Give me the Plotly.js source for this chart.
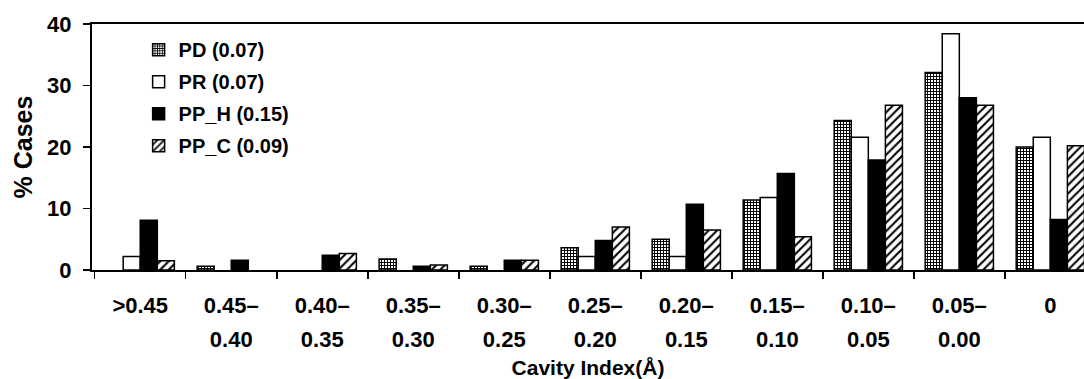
<!DOCTYPE html>
<html>
<head>
<meta charset="utf-8">
<script src="https://cdn.plot.ly/plotly-3.0.1.min.js"></script>
<style>html,body{margin:0;padding:0;background:#fff;}#chart{width:1084px;height:379px;}</style>
</head>
<body>
<div id="chart"></div>
<script>
const categories = [">0.45", "0.45–0.40", "0.40–0.35", "0.35–0.30", "0.30–0.25", "0.25–0.20", "0.20–0.15", "0.15–0.10", "0.10–0.05", "0.05–0.00", "0"];
const seriesNames = ["PD (0.07)", "PR (0.07)", "PP_H (0.15)", "PP_C (0.09)"];
const PD   = [0.0, 0.6, 0.0, 1.8, 0.6, 3.6, 5.0, 11.4, 24.3, 32.1, 20.0];
const PR   = [2.2, 0.0, 0.0, 0.0, 0.0, 2.2, 2.2, 11.8, 21.6, 38.4, 21.6];
const PP_H = [8.1, 1.6, 2.4, 0.6, 1.6, 4.8, 10.7, 15.7, 17.9, 28.0, 8.2];
const PP_C = [1.5, 0.0, 2.7, 0.8, 1.6, 7.0, 6.5, 5.4, 26.8, 26.8, 20.2];
const yTicks = [0, 10, 20, 30, 40];

const line1 = categories.map(c => c.includes("–") ? c.split("–")[0] + "–" : c);
const line2 = categories.map(c => c.includes("–") ? c.split("–")[1] : "");
const idx = categories.map((c, i) => i);

const FONT = "Liberation Sans, Arial, sans-serif";
const styles = [
  {color: "#ffffff", pattern: {shape: "+", fgcolor: "#000", bgcolor: "#fff", size: 3, solidity: 0.55, fillmode: "replace"}},
  {color: "#ffffff"},
  {color: "#000000"},
  {color: "#ffffff", pattern: {shape: "/", fgcolor: "#000", bgcolor: "#fff", size: 6, solidity: 0.35, fillmode: "replace"}}
];
const series = [PD, PR, PP_H, PP_C];
const traces = series.map((vals, k) => ({
  type: "bar",
  name: seriesNames[k],
  x: idx,
  y: vals.map(v => v === 0 ? null : v),
  legendgroup: "g" + k,
  marker: Object.assign({line: {color: "#000", width: 1.5}}, styles[k]),
  hoverinfo: "y+name"
}));

const layout = {
  width: 1084, height: 379,
  margin: {l: 92, r: 0, t: 24, b: 109},
  paper_bgcolor: "#fff", plot_bgcolor: "#fff",
  barmode: "group", bargap: 0.25, bargroupgap: 0,
  font: {family: FONT, color: "#000", size: 20, weight: "bold"},
  showlegend: true,
  legend: {x: 0.047, y: 0.975, xanchor: "left", yanchor: "top", tracegroupgap: 3,
           font: {family: FONT, size: 20, color: "#000", weight: "bold"}, bgcolor: "rgba(0,0,0,0)"},
  xaxis: {
    type: "linear", range: [-0.53, 10.37],
    tickmode: "array", tickvals: idx, ticktext: line1,
    ticks: "", showgrid: false, zeroline: false,
    showline: true, linecolor: "#000", linewidth: 2, mirror: true,
    tickfont: {family: FONT, size: 22, color: "#000", weight: "bold"},
    ticklabelstandoff: 15,
    title: {text: "Cavity Index(Å)", font: {family: FONT, size: 21, color: "#000", weight: "bold"}, standoff: 45}
  },
  xaxis2: {
    type: "linear", range: [-0.53, 10.37], overlaying: "x", anchor: "y", side: "bottom",
    tickmode: "array", tickvals: idx, ticktext: line2,
    ticks: "", showgrid: false, zeroline: false, showline: false,
    tickfont: {family: FONT, size: 22, color: "#000", weight: "bold"},
    ticklabelstandoff: 54
  },
  xaxis3: {
    type: "linear", range: [-0.53, 10.37], overlaying: "x", anchor: "y", side: "bottom",
    tickmode: "array", tickvals: idx.map(i => i - 0.5), showticklabels: false,
    ticks: "outside", ticklen: 8, tickwidth: 1.5, tickcolor: "#000",
    showgrid: false, zeroline: false, showline: false
  },
  yaxis: {
    range: [0, 40], tickmode: "array", tickvals: yTicks,
    ticks: "outside", ticklen: 7, tickwidth: 1.5, tickcolor: "#000",
    showgrid: false, zeroline: false, showline: true, linecolor: "#000", linewidth: 2,
    tickfont: {family: FONT, size: 22, color: "#000", weight: "bold"},
    ticklabelstandoff: 7,
    title: {text: "% Cases", font: {family: FONT, size: 25, color: "#000", weight: "bold"}, standoff: 7}
  }
};

// invisible traces to activate helper axes
traces.push({type: "scatter", x: [0], y: [0], xaxis: "x2", yaxis: "y", mode: "markers", marker: {opacity: 0}, showlegend: false, hoverinfo: "skip"});
traces.push({type: "scatter", x: [0], y: [0], xaxis: "x3", yaxis: "y", mode: "markers", marker: {opacity: 0}, showlegend: false, hoverinfo: "skip"});

Plotly.newPlot("chart", traces, layout, {displayModeBar: false, staticPlot: true});
</script>
</body>
</html>
